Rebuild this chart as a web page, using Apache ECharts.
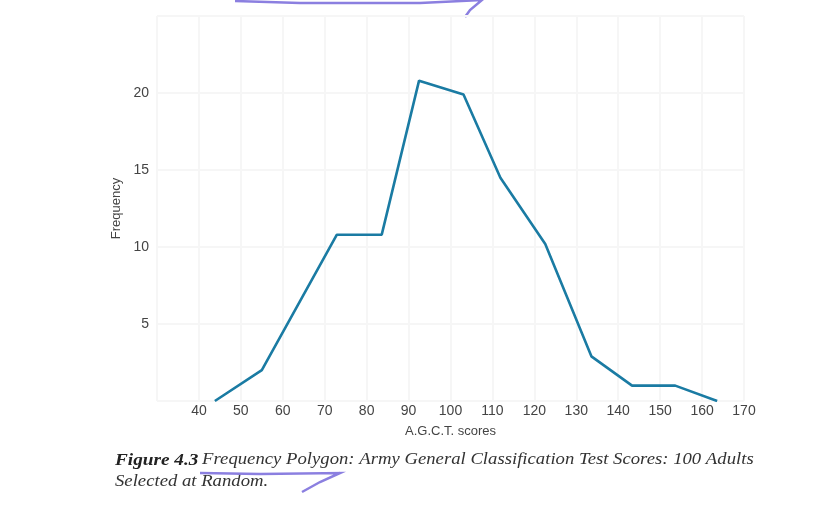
<!DOCTYPE html>
<html>
<head>
<meta charset="utf-8">
<script src="https://cdn.jsdelivr.net/npm/echarts@6/dist/echarts.min.js"></script>
<style>
html,body{margin:0;padding:0;background:#fff;}
#c{width:818px;height:524px;}
</style>
</head>
<body>
<div id="c"></div>
<script>
// A.G.C.T. score (class midpoints as drawn) and frequency
const scores = [43.8, 55.0, 72.9, 83.6, 92.5, 103.1, 111.9, 122.6, 133.6, 143.3, 153.6, 163.6];
const frequency = [0, 2, 10.8, 10.8, 20.8, 19.9, 14.5, 10.2, 2.9, 1.0, 1.0, 0];
const xTicks = [40, 50, 60, 70, 80, 90, 100, 110, 120, 130, 140, 150, 160, 170];
const yTicks = [5, 10, 15, 20];

const points = scores.map((s, i) => [s, frequency[i]]);

const chart = echarts.init(document.getElementById('c'));
chart.setOption({
  animation: false,
  backgroundColor: '#fff',
  grid: {left: 157, right: 74, top: 16, bottom: 123},
  xAxis: {
    type: 'value', min: 30, max: 170, interval: 10,
    name: 'A.G.C.T. scores', nameLocation: 'middle', nameGap: 24,
    nameTextStyle: {fontFamily: 'Liberation Sans Narrow, Liberation Sans', fontSize: 13, color: '#444'},
    axisLine: {show: false}, axisTick: {show: false},
    axisLabel: {
      fontFamily: 'Liberation Sans Narrow, Liberation Sans', fontSize: 14, color: '#444', margin: 3,
      formatter: v => xTicks.includes(v) ? String(v) : ''
    },
    splitLine: {show: true, lineStyle: {color: '#f6f6f6', width: 2}}
  },
  yAxis: {
    type: 'value', min: 0, max: 25, interval: 5,
    name: 'Frequency', nameLocation: 'middle', nameGap: 32, nameRotate: 90,
    nameTextStyle: {fontFamily: 'Liberation Sans Narrow, Liberation Sans', fontSize: 13, color: '#444'},
    axisLine: {show: false}, axisTick: {show: false},
    axisLabel: {
      fontFamily: 'Liberation Sans Narrow, Liberation Sans', fontSize: 14, color: '#444', margin: 8,
      formatter: v => yTicks.includes(v) ? String(v) : ''
    },
    splitLine: {show: true, lineStyle: {color: '#f6f6f6', width: 2}}
  },
  series: [{
    type: 'line', data: points, showSymbol: false, symbol: 'none',
    lineStyle: {color: '#1a7ba3', width: 2.6}
  }],
  graphic: [
    {
      type: 'text', x: 115, y: 449, scaleX: 1.1,
      style: {
        text: '{b|Figure 4.3} {i|Frequency Polygon: Army General Classification Test Scores: 100 Adults}\n{i|Selected at Random.}',
        lineHeight: 22,
        rich: {
          b: {fontFamily: 'Liberation Serif', fontWeight: 'bold', fontStyle: 'italic', fontSize: 17.5, fill: '#222'},
          i: {fontFamily: 'Liberation Serif', fontStyle: 'italic', fontSize: 17, fill: '#333'}
        }
      }
    },
    {
      type: 'polyline',
      shape: {points: [[235, 1], [300, 3], [420, 3], [482, 0], [470, 10], [465, 17]]},
      style: {stroke: '#8b7fe0', lineWidth: 2.5, fill: null}
    },
    {
      type: 'polyline',
      shape: {points: [[200, 473], [260, 474], [340, 473], [320, 482], [302, 492]]},
      style: {stroke: '#8b7fe0', lineWidth: 2.5, fill: null}
    }
  ]
});
</script>
</body>
</html>
